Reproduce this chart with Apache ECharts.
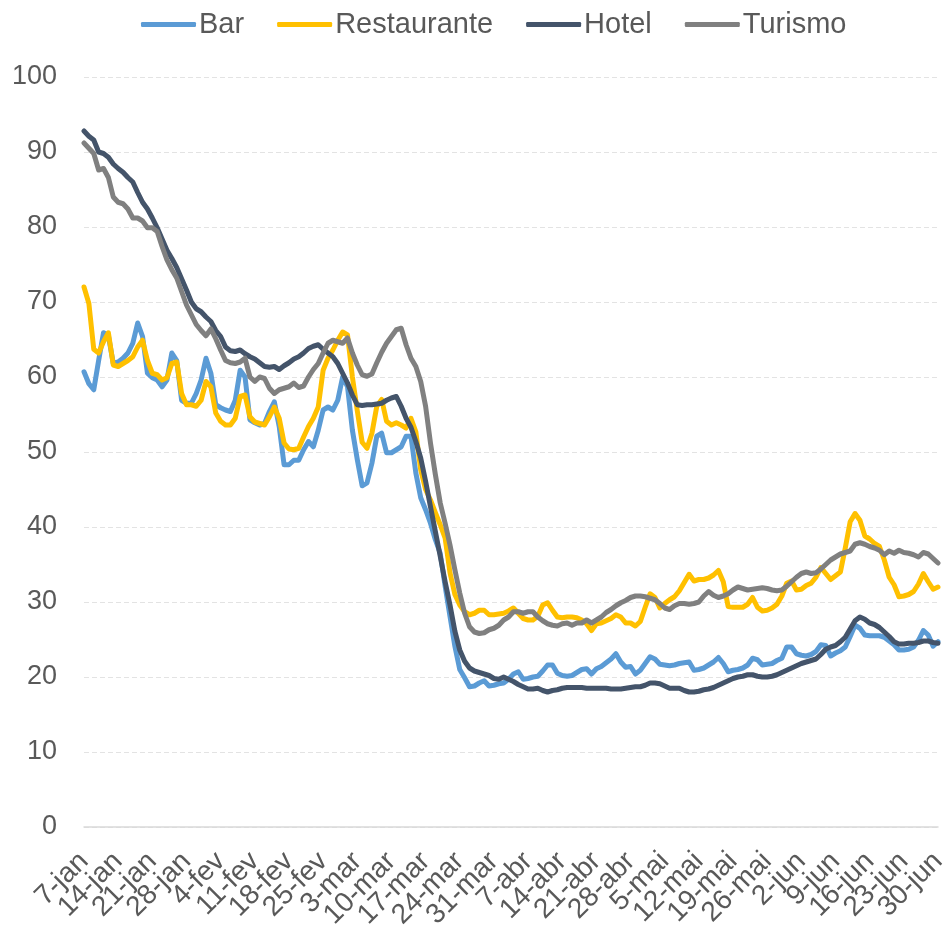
<!DOCTYPE html>
<html>
<head>
<meta charset="utf-8">
<script src="https://cdn.jsdelivr.net/npm/echarts@6/dist/echarts.min.js"></script>
<style>
  html, body { margin: 0; padding: 0; background: #fff; }
  #chart { width: 946px; height: 926px; }
</style>
</head>
<body>
<div id="chart"></div>
<script>
// month names used on the x axis (pt)
var monthNames = ['jan', 'fev', 'mar', 'abr', 'mai', 'jun'];
var seriesNames = ['Bar', 'Restaurante', 'Hotel', 'Turismo'];
var seriesColors = ['#5B9BD5', '#FFC000', '#44546A', '#808080'];

// daily values, 7-jan .. 30-jun
var bar = [
  60.7, 59.1, 58.3, 62.2, 65.9, 65.5, 61.8, 62.0, 62.5, 63.2, 64.5, 67.2, 65.4, 60.5, 59.9, 59.6, 58.7, 59.6, 63.2, 62.2, 56.9, 56.5, 56.5, 57.8, 59.6, 62.5, 60.5, 56.3, 55.9, 55.6,
  55.4, 56.9, 60.9, 60.0, 54.3, 53.9, 53.6, 53.8, 55.4, 56.7, 53.4, 48.3, 48.3, 48.9, 48.9, 50.3, 51.4, 50.7, 52.9, 55.6, 56.0, 55.6, 56.9, 60.0, 58.7, 52.9, 49.0, 45.5,
  45.9, 48.5, 52.1, 52.5, 49.9, 49.9, 50.3, 50.7, 52.1, 52.1, 47.2, 43.9, 42.3, 40.5, 38.3, 36.5, 32.1, 28.1, 24.1, 21.0, 19.9, 18.7,
  18.8, 19.2, 19.5,
  18.8, 18.9, 19.1, 19.2, 19.7, 20.4, 20.7, 19.7, 19.8, 20.0, 20.1, 20.8, 21.6, 21.6, 20.5, 20.2, 20.1, 20.2, 20.6, 21.0, 21.1, 20.4, 21.1, 21.4, 21.9, 22.4, 23.1,
  22.0, 21.3, 21.4, 20.4, 20.9, 21.8, 22.7, 22.4, 21.7, 21.6, 21.5, 21.6, 21.8, 21.9, 22.0, 20.9, 21.0, 21.2, 21.6, 22.0, 22.6, 21.8, 20.7, 20.9, 21.0, 21.2, 21.6, 22.5, 22.3, 21.6, 21.7,
  21.8, 22.2, 22.5, 24.0, 24.0, 23.1, 22.9, 22.8, 23.0, 23.4, 24.3, 24.2, 22.8, 23.2, 23.5, 24.0, 25.4, 26.9, 26.5, 25.6, 25.5, 25.5, 25.5, 25.3, 24.8, 24.3, 23.6, 23.6, 23.7, 24.0, 24.9, 26.2, 25.6, 24.1, 24.7
];
var restaurante = [
  72.0, 69.8, 63.7, 63.2, 64.7, 65.9, 61.6, 61.4, 61.8, 62.2, 62.7, 64.0, 64.9, 62.2, 60.5, 60.3, 59.6, 59.9, 61.8, 62.0, 57.8, 56.3, 56.3, 56.1, 56.9, 59.4, 58.7, 55.2, 54.1, 53.6,
  53.6, 54.5, 57.4, 57.6, 54.7, 54.0, 53.8, 53.6, 54.7, 56.0, 54.5, 51.2, 50.4, 50.3, 50.5, 52.0, 53.4, 54.5, 56.0, 60.9, 62.5, 63.6, 64.9, 66.0, 65.6, 60.0, 55.5, 51.3,
  50.5, 52.5, 56.1, 57.0, 54.1, 53.6, 53.9, 53.6, 53.2, 54.5, 52.7, 47.6, 45.0, 43.6, 41.9, 40.3, 38.5, 33.9, 31.0, 29.6, 28.7, 28.3,
  28.5, 28.9, 28.9,
  28.3, 28.3, 28.4, 28.5, 28.8, 29.2, 28.5, 27.8, 27.6, 27.6, 28.1, 29.6, 29.9, 28.9, 28.0, 27.9, 28.0, 28.0, 27.9, 27.6, 27.1, 26.2, 27.1, 27.2, 27.5, 27.8, 28.3,
  28.0, 27.2, 27.2, 26.8, 27.4, 29.3, 31.1, 30.6, 29.2, 29.8, 30.3, 30.7, 31.5, 32.6, 33.7, 32.8, 33.0, 33.0, 33.2, 33.6, 34.2, 32.7, 29.4, 29.3, 29.3, 29.3, 29.7, 30.6, 29.3, 28.8, 28.9,
  29.2, 29.7, 30.8, 32.5, 32.8, 31.6, 31.7, 32.2, 32.5, 33.3, 34.6, 33.8, 33.0, 33.5, 34.0, 37.2, 40.7, 41.8, 40.9, 38.8, 38.4, 37.8, 37.4, 35.6, 33.3, 32.3, 30.7, 30.8, 31.0, 31.4, 32.4, 33.8, 32.7, 31.7, 32.0
];
var hotel = [
  92.8, 92.1, 91.6, 90.0, 89.8, 89.3, 88.4, 87.8, 87.3, 86.6, 86.0, 84.6, 83.3, 82.4, 81.2, 79.9, 78.4, 76.9, 75.8, 74.6, 73.1, 71.6, 70.0, 69.1, 68.7, 68.0, 67.4, 66.2, 65.4, 64.0,
  63.5, 63.4, 63.6, 63.1, 62.7, 62.4, 61.9, 61.4, 61.3, 61.4, 61.0, 61.5, 61.9, 62.4, 62.7, 63.2, 63.8, 64.1, 64.3, 63.7, 63.2, 62.7, 61.8, 60.5, 59.2, 57.6, 56.3, 56.2,
  56.3, 56.3, 56.4, 56.5, 56.9, 57.2, 57.4, 56.1, 54.5, 53.3, 51.4, 49.2, 46.1, 42.7, 39.4, 36.1, 32.7, 29.6, 26.1, 23.6, 22.1, 21.2,
  20.8, 20.6, 20.4,
  20.2, 19.8, 19.7, 20.0, 19.7, 19.4, 19.0, 18.7, 18.4, 18.4, 18.5, 18.2, 18.0, 18.2, 18.3, 18.5, 18.6, 18.6, 18.6, 18.6, 18.5, 18.5, 18.5, 18.5, 18.5, 18.4, 18.4,
  18.4, 18.5, 18.6, 18.7, 18.7, 18.9, 19.2, 19.2, 19.1, 18.8, 18.5, 18.5, 18.5, 18.2, 18.0, 18.0, 18.1, 18.3, 18.4, 18.6, 18.9, 19.2, 19.5, 19.8, 20.0, 20.1, 20.3, 20.3, 20.1, 20.0, 20.0,
  20.1, 20.3, 20.6, 20.9, 21.2, 21.5, 21.8, 22.0, 22.2, 22.4, 23.0, 23.7, 24.0, 24.2, 24.7, 25.3, 26.4, 27.5, 28.0, 27.7, 27.2, 27.0, 26.6, 26.0, 25.4, 24.7, 24.4, 24.4, 24.5, 24.5, 24.6, 24.8, 24.8, 24.6, 24.5
];
var turismo = [
  91.2, 90.5, 89.8, 87.6, 87.8, 86.6, 84.0, 83.3, 83.1, 82.4, 81.2, 81.2, 80.8, 79.9, 79.9, 79.4, 77.4, 75.6, 74.3, 73.2, 71.4, 69.6, 68.3, 67.0, 66.2, 65.5, 66.4, 65.1, 63.6, 62.2,
  61.9, 61.8, 62.0, 62.5, 60.0, 59.4, 60.0, 59.8, 58.5, 57.8, 58.3, 58.5, 58.7, 59.2, 58.6, 58.8, 60.0, 61.0, 61.8, 63.2, 64.5, 64.9, 64.7, 64.5, 65.2, 63.2, 61.6, 60.3,
  60.1, 60.4, 61.9, 63.3, 64.5, 65.4, 66.3, 66.5, 64.3, 62.5, 61.4, 59.4, 56.1, 51.2, 47.0, 43.2, 40.5, 37.6, 34.3, 31.2, 28.5, 26.7,
  26.0, 25.8, 25.9,
  26.3, 26.5, 26.9, 27.6, 28.0, 28.7, 28.7, 28.5, 28.7, 28.7, 28.0, 27.5, 27.1, 26.9, 26.8, 27.1, 27.2, 26.9, 27.2, 27.2, 27.6, 27.2, 27.6, 28.0, 28.6, 29.0, 29.5,
  29.9, 30.2, 30.6, 30.8, 30.8, 30.7, 30.5, 30.3, 29.8, 29.2, 29.0, 29.5, 29.8, 29.8, 29.7, 29.8, 30.0, 30.8, 31.4, 30.9, 30.6, 30.8, 31.1, 31.6, 32.0, 31.8, 31.6, 31.7, 31.8, 31.9, 31.8,
  31.6, 31.5, 31.6, 32.1, 32.7, 33.3, 33.8, 34.0, 33.8, 33.9, 34.4, 35.0, 35.6, 36.0, 36.4, 36.6, 36.8, 37.7, 37.9, 37.7, 37.4, 37.2, 36.9, 36.3, 36.8, 36.5, 36.9, 36.6, 36.5, 36.3, 36.0, 36.6, 36.4, 35.8, 35.2
];

// day labels 7-jan .. 30-jun (2020)
var days = [];
var d = new Date(2020, 0, 7);
for (var i = 0; i < bar.length; i++) {
    days.push(d.getDate() + '-' + monthNames[d.getMonth()]);
    d.setDate(d.getDate() + 1);
}

var chart = echarts.init(document.getElementById('chart'));
var allData = [bar, restaurante, hotel, turismo];
var series = [];
for (var s = 0; s < seriesNames.length; s++) {
    series.push({
        name: seriesNames[s],
        type: 'line',
        data: allData[s],
        showSymbol: false,
        symbol: 'none',
        lineStyle: { width: 5, color: seriesColors[s], cap: 'round', join: 'round' },
        itemStyle: { color: seriesColors[s] }
    });
}

// weekly labels overlap each other, so they are split over two identical
// category axes (even weeks / odd weeks) to keep echarts from hiding any
function weekAxis(offset, showLine) {
    return {
        type: 'category',
        data: days,
        position: 'bottom',
        boundaryGap: false,
        axisLine: { show: showLine, lineStyle: { color: '#d9d9d9', width: 1.5 } },
        axisTick: { show: false },
        splitLine: { show: false },
        axisLabel: {
            interval: function (index) { return index % 14 === offset; },
            rotate: 45,
            fontSize: 28,
            color: '#595959',
            margin: 30,
            hideOverlap: false
        }
    };
}

chart.setOption({
    animation: false,
    textStyle: { fontFamily: 'Liberation Sans, Arial, sans-serif' },
    legend: {
        top: 10,
        left: 141,
        padding: 0,
        icon: 'roundRect',
        itemWidth: 55,
        itemHeight: 5,
        itemGap: 33,
        textStyle: { fontSize: 29, color: '#595959', padding: [0, 0, 0, -2] },
        data: seriesNames
    },
    grid: { left: 84, right: 8, top: 77, bottom: 99, containLabel: false, outerBoundsMode: 'none' },
    xAxis: [weekAxis(0, true), weekAxis(7, false)],
    yAxis: {
        type: 'value',
        min: 0,
        max: 100,
        interval: 10,
        axisLine: { show: false },
        axisTick: { show: false },
        axisLabel: { fontSize: 27, color: '#595959', margin: 27 },
        splitLine: { lineStyle: { color: '#e3e3e3', type: [5, 3], width: 1 } }
    },
    series: series
});
</script>
</body>
</html>
